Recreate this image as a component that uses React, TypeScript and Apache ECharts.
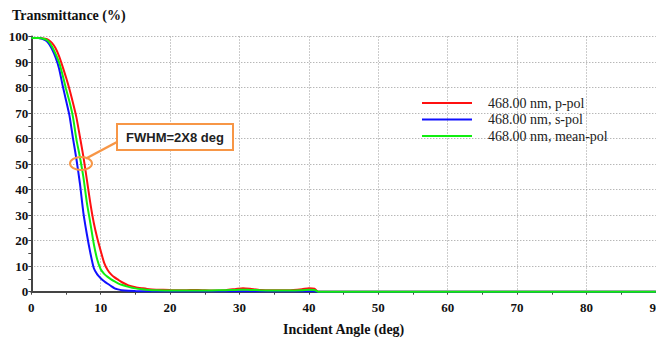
import React, { useEffect, useRef } from "react";
import * as echarts from "echarts";

const angles = [0, 1, 2, 2.5, 3, 3.5, 4, 4.5, 5, 5.5, 6, 6.5, 7, 7.5, 8, 8.5, 9, 9.5, 10, 10.5, 11, 11.5, 12, 12.5, 13, 14, 15, 16, 17, 18, 20, 22, 24, 26, 28, 29.5, 30.5, 31.5, 33, 35, 37, 39, 40, 40.8, 41.3, 50, 60, 70, 80, 90];

const pPol = [99.4, 99.4, 99.1, 98.6, 97.4, 95.4, 92.3, 88.3, 84, 79.3, 74, 68.3, 60.8, 53, 44, 34.8, 27, 21, 16, 11.3, 8.5, 6.8, 5.6, 4.7, 3.8, 2.5, 1.8, 1.35, 0.95, 0.8, 0.65, 0.55, 0.7, 0.5, 0.6, 1.1, 1.4, 1.2, 0.7, 0.6, 0.6, 1.0, 1.4, 1.2, 0, 0, 0, 0, 0, 0];
const sPol = [99.4, 99.4, 98.6, 97.3, 95, 91.8, 87.5, 81, 75, 69, 60.2, 52, 42.5, 31, 22.6, 15.3, 9.3, 6.8, 5.3, 4.1, 3.1, 2.2, 1.3, 0.9, 0.6, 0.35, 0.25, 0.2, 0.15, 0.15, 0.15, 0.15, 0.15, 0.15, 0.15, 0.15, 0.2, 0.15, 0.15, 0.15, 0.15, 0.15, 0.2, 0.15, 0, 0, 0, 0, 0, 0];
const meanPol = [99.4, 99.4, 98.9, 98, 96, 93.2, 89.9, 85, 79.5, 74.5, 68.5, 59.7, 52.8, 45, 35, 27, 18.8, 12.6, 8.8, 7, 5.8, 4.8, 4, 3.3, 2.7, 1.9, 1.3, 0.95, 0.7, 0.6, 0.5, 0.5, 0.45, 0.5, 0.55, 0.7, 0.8, 0.7, 0.55, 0.5, 0.5, 0.6, 0.8, 0.7, 0, 0, 0, 0, 0, 0];

const seriesNames = ["468.00 nm, p-pol", "468.00 nm, s-pol", "468.00 nm, mean-pol"];
const seriesColors = ["#ff1010", "#1010ff", "#10ee10"];
const seriesValues = [pPol, sPol, meanPol];

const yTitle = "Transmittance (%)";
const xTitle = "Incident Angle (deg)";
const note = "FWHM=2X8 deg";

const serif = "'Liberation Serif', 'Times New Roman', serif";

export default function App() {
  const ref = useRef<HTMLDivElement>(null);
  useEffect(() => {
    if (!ref.current) return;
    const chart = echarts.init(ref.current, null, { renderer: "svg" });
    const orange = "#f79646";
    chart.setOption({
      animation: false,
      backgroundColor: "#ffffff",
      title: {
        text: yTitle,
        left: 12,
        top: 8,
        padding: 0,
        textStyle: { fontFamily: serif, fontWeight: "bold", fontSize: 14, color: "#111" },
      },
      legend: {
        orient: "vertical",
        left: 422,
        top: 96,
        padding: 0,
        itemWidth: 61,
        itemHeight: 2,
        itemGap: 2.5,
        icon: "path://M0,0H50V2H0ZM61,0H61.01V2H61Z",
        itemStyle: { borderWidth: 0 },
        textStyle: { fontFamily: serif, fontSize: 14, color: "#222" },
        data: seriesNames,
      },
      grid: { left: 31.3, right: 0.1, top: 36.5, bottom: 46.3, containLabel: false, outerBoundsMode: "none" },
      xAxis: {
        type: "value",
        min: 0,
        max: 90,
        interval: 10,
        name: xTitle,
        nameLocation: "middle",
        nameGap: 31,
        nameTextStyle: { fontFamily: serif, fontWeight: "bold", fontSize: 14, color: "#111" },
        axisLine: { show: true, onZero: false, lineStyle: { color: "#444", width: 2 } },
        axisTick: { show: true, length: 3, lineStyle: { color: "#444" } },
        minorTick: { show: true, splitNumber: 2, length: 3, lineStyle: { color: "#444" } },
        axisLabel: { margin: 9, fontFamily: serif, fontWeight: "bold", fontSize: 13, color: "#111" },
        splitLine: { show: true, lineStyle: { color: "#999", type: [1, 2], width: 1 } },
      },
      yAxis: {
        type: "value",
        min: 0,
        max: 100,
        interval: 10,
        axisLine: { show: true, onZero: false, lineStyle: { color: "#444", width: 2 } },
        axisTick: { show: true, length: 3, lineStyle: { color: "#444" } },
        minorTick: { show: true, splitNumber: 2, length: 3, lineStyle: { color: "#444" } },
        axisLabel: { margin: 3, fontFamily: serif, fontWeight: "bold", fontSize: 13, color: "#111" },
        splitLine: { show: true, lineStyle: { color: "#999", type: [1, 2], width: 1 } },
      },
      series: seriesNames.map((name, i) => ({
        name,
        type: "line",
        data: angles.map((a, j) => [a, seriesValues[i][j]]),
        showSymbol: false,
        symbol: "none",
        smooth: 0.2,
        clip: false,
        color: seriesColors[i],
        lineStyle: { color: seriesColors[i], width: 2 },
        z: 3 + i,
      })),
      graphic: [
        {
          type: "line",
          shape: { x1: 86, y1: 158.5, x2: 117, y2: 142 },
          style: { stroke: orange, lineWidth: 2.5 },
          z: 100,
        },
        {
          type: "ellipse",
          shape: { cx: 81, cy: 163.5, rx: 11, ry: 6.5 },
          style: { fill: "none", stroke: orange, lineWidth: 2 },
          z: 100,
        },
        {
          type: "rect",
          shape: { x: 117, y: 124, width: 116, height: 26 },
          style: { fill: "#ffffff", stroke: orange, lineWidth: 2 },
          z: 100,
        },
        {
          type: "text",
          x: 175,
          y: 137,
          style: {
            text: note,
            align: "center",
            verticalAlign: "middle",
            font: "bold 13px 'Liberation Sans', Arial, sans-serif",
            fill: "#222",
          },
          z: 101,
        },
      ],
    });
    return () => chart.dispose();
  }, []);
  return (
    <div
      ref={ref}
      style={{ position: "fixed", left: 0, top: 0, width: 656, height: 338 }}
    />
  );
}
